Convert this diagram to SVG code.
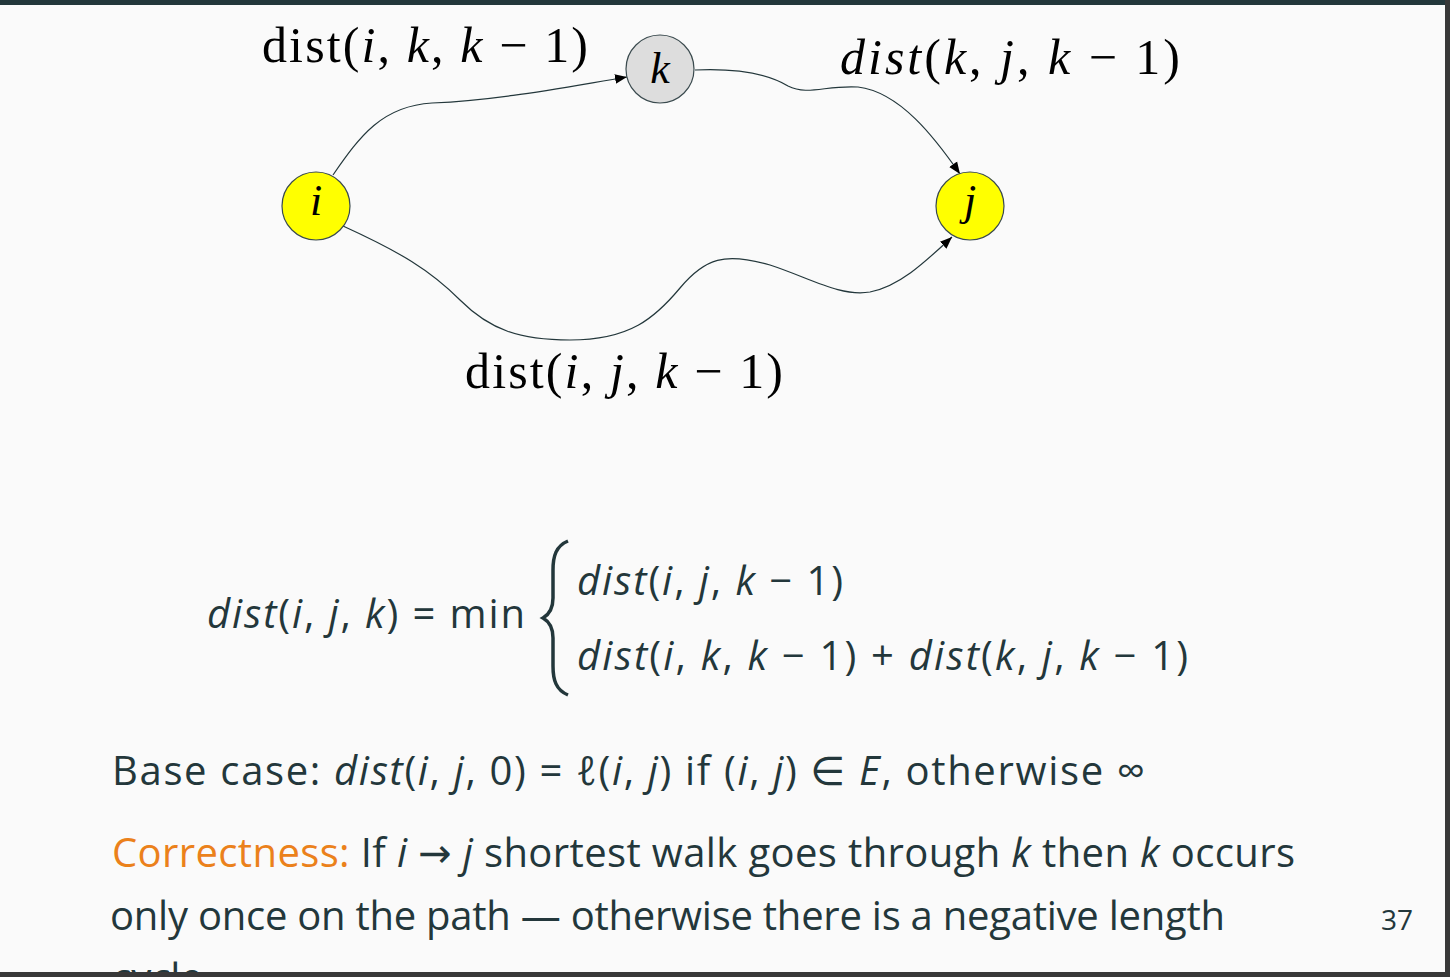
<svg xmlns="http://www.w3.org/2000/svg" width="1450" height="977" viewBox="0 0 1450 977">
<style>
.serif{font-family:"Liberation Serif","DejaVu Serif",serif;fill:#000}
.sans{font-family:"Open Sans","DejaVu Sans",sans-serif;fill:#23373b}
.it{font-style:italic}
.edge{fill:none;stroke:#23373b;stroke-width:1.2}
.node{stroke:#3a4a4e;stroke-width:1.2}
</style>
<defs>
<marker id="ah" viewBox="0 0 10 10" refX="10" refY="5" markerWidth="12" markerHeight="12" markerUnits="userSpaceOnUse" orient="auto">
<path d="M0,1 L10,5 L0,9 Z" fill="#000"/>
</marker>
</defs>
<rect x="0" y="0" width="1450" height="977" fill="#fafafa"/>
<rect x="0" y="0" width="1450" height="5" fill="#23373b"/>
<g id="connectors">
<path class="edge" marker-end="url(#ah)" d="M333,175 C360,136 382,106 432,103 C500,100 560,88 627,77"/>
<path class="edge" marker-end="url(#ah)" d="M695,70 C740,68 768,74 788,86 C808,96 826,85 858,87 C900,92 935,138 960,174"/>
<path class="edge" marker-end="url(#ah)" d="M343,226 C400,252 430,270 460,300 C490,330 520,340 570,340 C630,340 655,318 680,288 C705,258 725,252 770,265 C810,278 840,297 870,292 C900,286 925,262 952,237"/>
</g>
<g id="node-i">
<circle class="node" cx="316" cy="206" r="34" fill="#ffff00"/>
<text class="serif it" x="316" y="215" font-size="44" text-anchor="middle">i</text>
</g>
<g id="node-k">
<circle class="node" cx="660" cy="69" r="34" fill="#dddddd"/>
<text class="serif it" x="660" y="83" font-size="44" text-anchor="middle">k</text>
</g>
<g id="node-j">
<circle class="node" cx="970" cy="206" r="34" fill="#ffff00"/>
<text class="serif it" x="970" y="215" font-size="44" text-anchor="middle">j</text>
</g>
<g id="edge-labels">
<text class="serif" x="262" y="62" font-size="50" textLength="326" lengthAdjust="spacing">dist(<tspan class="it">i</tspan>, <tspan class="it">k</tspan>, <tspan class="it">k</tspan> − 1)</text>
<text class="serif" x="840" y="74" font-size="50" textLength="340" lengthAdjust="spacing"><tspan class="it">dist</tspan>(<tspan class="it">k</tspan>, <tspan class="it">j</tspan>, <tspan class="it">k</tspan> − 1)</text>
<text class="serif" x="465" y="388" font-size="50" textLength="318" lengthAdjust="spacing">dist(<tspan class="it">i</tspan>, <tspan class="it">j</tspan>, <tspan class="it">k</tspan> − 1)</text>
</g>
<g id="formula">
<text class="sans" x="207" y="628" font-size="40" textLength="318" lengthAdjust="spacing"><tspan class="it">dist</tspan>(<tspan class="it">i</tspan>, <tspan class="it">j</tspan>, <tspan class="it">k</tspan>) = min</text>
<path d="M568,541 C556,546 553,556 553,570 L553,598 C553,608 550,614 543,618 C550,622 553,628 553,638 L553,666 C553,680 556,690 568,695" fill="none" stroke="#23373b" stroke-width="3.5"/>
<text class="sans" x="577" y="595" font-size="40" textLength="266" lengthAdjust="spacing"><tspan class="it">dist</tspan>(<tspan class="it">i</tspan>, <tspan class="it">j</tspan>, <tspan class="it">k</tspan> − 1)</text>
<text class="sans" x="577" y="670" font-size="40" textLength="611" lengthAdjust="spacing"><tspan class="it">dist</tspan>(<tspan class="it">i</tspan>, <tspan class="it">k</tspan>, <tspan class="it">k</tspan> − 1) + <tspan class="it">dist</tspan>(<tspan class="it">k</tspan>, <tspan class="it">j</tspan>, <tspan class="it">k</tspan> − 1)</text>
</g>
<g id="text">
<text class="sans" x="112" y="785" font-size="40" textLength="1033" lengthAdjust="spacing">Base case:  <tspan class="it">dist</tspan>(<tspan class="it">i</tspan>, <tspan class="it">j</tspan>, 0) = ℓ(<tspan class="it">i</tspan>, <tspan class="it">j</tspan>) if (<tspan class="it">i</tspan>, <tspan class="it">j</tspan>) ∈ <tspan class="it">E</tspan>, otherwise ∞</text>
<text class="sans" x="112" y="867" font-size="40" textLength="1183" lengthAdjust="spacing"><tspan fill="#eb811b">Correctness:</tspan> If <tspan class="it">i</tspan> → <tspan class="it">j</tspan> shortest walk goes through <tspan class="it">k</tspan> then <tspan class="it">k</tspan> occurs</text>
<text class="sans" x="110" y="930" font-size="40" textLength="1115" lengthAdjust="spacing">only once on the path — otherwise there is a negative length</text>
<text class="sans" x="112" y="992" font-size="40">cycle</text>
<text class="sans" x="1381" y="930" font-size="28" textLength="32" lengthAdjust="spacing">37</text>
</g>
<rect x="0" y="972" width="1450" height="5" fill="#383838"/>
<rect x="1445" y="0" width="5" height="977" fill="#383838"/>
</svg>
